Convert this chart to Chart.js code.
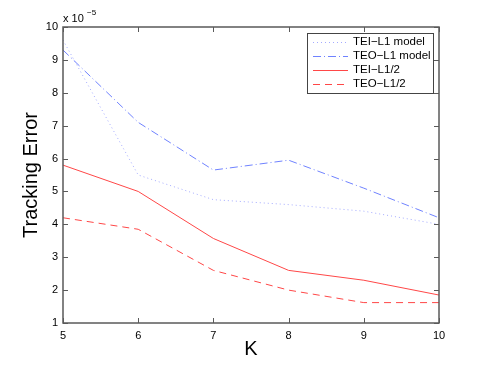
<!DOCTYPE html>
<html>
<head>
<meta charset="utf-8">
<script src="https://cdn.jsdelivr.net/npm/chart.js@4"></script>
<style>
  html, body { margin: 0; padding: 0; background: #fff; }
  #wrap { width: 485px; height: 365px; position: relative; }
</style>
</head>
<body>
<div id="wrap"><canvas id="c" width="485" height="365"></canvas></div>
<script>
// ─── DATA ─────────────────────────────────────────────
const kValues   = [5, 6, 7, 8, 9, 10];
const teiL1     = [9.6, 5.5, 4.75, 4.6, 4.4, 4.0];
const teoL1     = [9.3, 7.1, 5.65, 5.95, 5.1, 4.2];
const teiLhalf  = [5.8, 5.0, 3.57, 2.6, 2.3, 1.85];
const teoLhalf  = [4.2, 3.85, 2.6, 2.0, 1.62, 1.62];
const seriesNames = ['TEI\u2212L1 model', 'TEO\u2212L1 model', 'TEI\u2212L1/2', 'TEO\u2212L1/2'];
const yTicks = [1, 2, 3, 4, 5, 6, 7, 8, 9, 10];

const FONT = 'Liberation Sans, Arial, Helvetica, sans-serif';
const toPts = arr => arr.map((v, i) => ({ x: kValues[i], y: v }));

const styles = [
  { color: '#a3aaff', dash: [1, 3] },
  { color: '#6f82ff', dash: [8, 3, 1, 3] },
  { color: '#ff4747', dash: [] },
  { color: '#ff4747', dash: [7, 5] }
];
const seriesData = [teiL1, teoL1, teiLhalf, teoLhalf];

// ─── MATLAB-STYLE BOX, TICKS, LEGEND ──────────────────
const boxPlugin = {
  id: 'box',
  afterDraw(chart) {
    const { ctx, chartArea: a, scales: { x, y } } = chart;
    ctx.save();
    ctx.strokeStyle = '#5a5a5a';
    ctx.lineWidth = 1.5;
    ctx.setLineDash([]);
    ctx.strokeRect(a.left, a.top, a.right - a.left, a.bottom - a.top);
    const tl = 5;
    ctx.lineWidth = 1;
    ctx.beginPath();
    kValues.forEach(k => {
      const px = Math.round(x.getPixelForValue(k)) + 0.5;
      ctx.moveTo(px, a.bottom); ctx.lineTo(px, a.bottom - tl);
      ctx.moveTo(px, a.top); ctx.lineTo(px, a.top + tl);
    });
    yTicks.forEach(t => {
      const py = Math.round(y.getPixelForValue(t)) + 0.5;
      ctx.moveTo(a.left, py); ctx.lineTo(a.left + tl, py);
      ctx.moveTo(a.right, py); ctx.lineTo(a.right - tl, py);
    });
    ctx.stroke();

    // exponent label
    ctx.fillStyle = '#000';
    ctx.textBaseline = 'alphabetic';
    ctx.textAlign = 'left';
    ctx.font = '11px ' + FONT;
    ctx.fillText('x 10', a.left, 22);
    ctx.font = '8px ' + FONT;
    ctx.fillText('\u22125', a.left + 24, 15);

    // legend
    const lx = 307, ly = 33, lw = 126, lh = 60;
    ctx.fillStyle = '#fff';
    ctx.fillRect(lx, ly, lw, lh);
    ctx.strokeStyle = '#444';
    ctx.lineWidth = 1;
    ctx.strokeRect(lx + 0.5, ly + 0.5, lw, lh);
    ctx.font = '11.5px ' + FONT;
    ctx.textBaseline = 'middle';
    chart.data.datasets.forEach((ds, i) => {
      const ry = 42 + i * 14;
      ctx.strokeStyle = ds.borderColor;
      ctx.setLineDash(ds.borderDash);
      ctx.beginPath();
      ctx.moveTo(313, ry + 0.5); ctx.lineTo(348, ry + 0.5);
      ctx.stroke();
      ctx.setLineDash([]);
      ctx.fillStyle = '#000';
      ctx.fillText(ds.label, 353, ry);
    });
    ctx.restore();
  }
};

new Chart(document.getElementById('c'), {
  type: 'line',
  data: {
    datasets: seriesData.map((d, i) => ({
      label: seriesNames[i],
      data: toPts(d),
      borderColor: styles[i].color,
      borderDash: styles[i].dash,
      borderWidth: 1,
      pointRadius: 0,
      tension: 0,
      fill: false
    }))
  },
  options: {
    responsive: false,
    animation: false,
    layout: { padding: { left: 0, top: 27, right: 46, bottom: 0 } },
    plugins: { legend: { display: false }, tooltip: { enabled: false } },
    scales: {
      x: {
        type: 'linear', min: 5, max: 10,
        afterFit: s => { s.height = 42; },
        afterBuildTicks: s => { s.ticks = kValues.map(v => ({ value: v })); },
        grid: { display: false, drawTicks: false },
        border: { display: false },
        ticks: { color: '#000', font: { family: FONT, size: 11 }, padding: 6, maxRotation: 0 },
        title: { display: true, text: 'K', color: '#000', font: { family: FONT, size: 20 }, padding: { top: 0, bottom: 4 } }
      },
      y: {
        type: 'linear', min: 1, max: 10,
        afterFit: s => { s.width = 63; },
        afterBuildTicks: s => { s.ticks = yTicks.map(v => ({ value: v })); },
        grid: { display: false, drawTicks: false },
        border: { display: false },
        ticks: { color: '#000', font: { family: FONT, size: 11 }, padding: 5 },
        title: { display: true, text: 'Tracking Error', color: '#000', font: { family: FONT, size: 20 }, padding: { top: 19, bottom: 0 } }
      }
    }
  },
  plugins: [boxPlugin]
});
</script>
</body>
</html>
